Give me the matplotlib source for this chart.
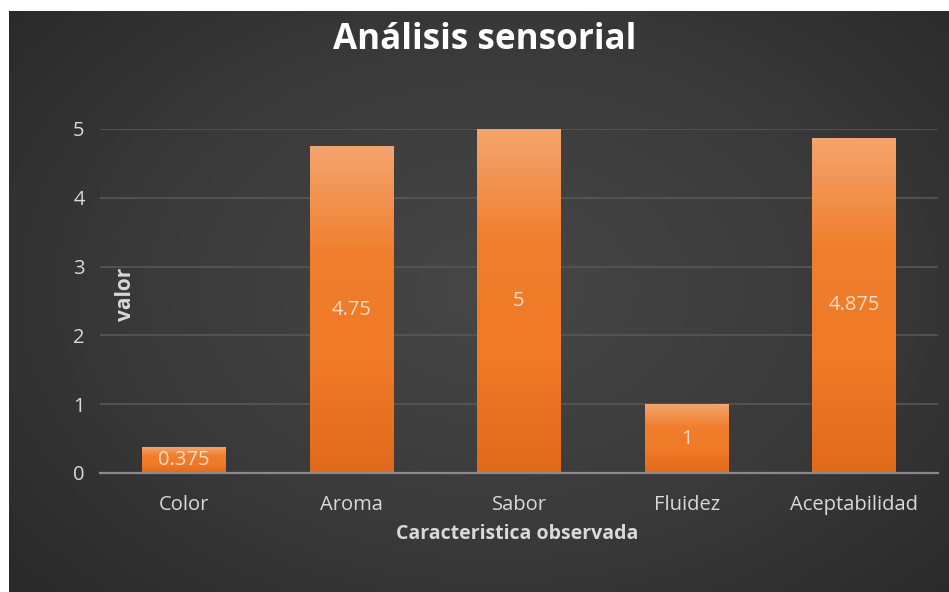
import numpy as np
import matplotlib.pyplot as plt
from matplotlib.colors import LinearSegmentedColormap

plt.rcParams["font.family"] = ["Open Sans", "DejaVu Sans"]

# ── Data ─────────────────────────────────────────────────────────────────────
categorias = ["Color", "Aroma", "Sabor", "Fluidez", "Aceptabilidad"]
valores = [0.375, 4.75, 5, 1, 4.875]
etiquetas = ["0.375", "4.75", "5", "1", "4.875"]
yticks = [0, 1, 2, 3, 4, 5]

W, H = 949, 592
fig = plt.figure(figsize=(W / 100, H / 100), dpi=100, facecolor="white")

# ── Dark radial background ───────────────────────────────────────────────────
bg = fig.add_axes([9 / W, 0, 1 - 9 / W, (H - 11) / H])
bg.set_axis_off()
yy, xx = np.mgrid[0:1:300j, 0:1:480j]
r = np.sqrt(((xx - 0.52) / 0.75) ** 2 + ((yy - 0.48) / 0.85) ** 2)
r = np.clip(r, 0, 1)
bg_cmap = LinearSegmentedColormap.from_list("bg", ["#474747", "#3a3a3a", "#262626"])
bg.imshow(r, cmap=bg_cmap, aspect="auto", extent=[0, 1, 0, 1], vmin=0, vmax=1)
bg.set_xlim(0, 1)
bg.set_ylim(0, 1)

# ── Plot area ────────────────────────────────────────────────────────────────
ax = fig.add_axes([100 / W, (H - 473) / H, (938 - 100) / W, (473 - 129) / H])
ax.patch.set_alpha(0)
x = np.arange(len(categorias))
bars = ax.bar(x, valores, width=0.5, color="none", zorder=2)

bar_cmap = LinearSegmentedColormap.from_list(
    "naranja", ["#E2691C", "#EF7A27", "#F07E2C", "#F4A56F"])
grad = np.linspace(0, 1, 256).reshape(-1, 1)
for b in bars:
    x0, y0 = b.get_x(), b.get_y()
    im = ax.imshow(grad, cmap=bar_cmap, aspect="auto", origin="lower",
                   extent=[x0, x0 + b.get_width(), y0, y0 + b.get_height()], zorder=2)
    im.set_clip_path(b)

ax.set_xlim(-0.5, len(categorias) - 0.5)
ax.set_ylim(0, 5)
ax.set_yticks(yticks)
ax.set_xticks(x)
ax.set_xticklabels(categorias)
ax.grid(axis="y", color="#575757", linewidth=1.2, zorder=0)
ax.set_axisbelow(True)
for s in ["top", "right", "left"]:
    ax.spines[s].set_visible(False)
ax.spines["bottom"].set_color("#8a8a8a")
ax.spines["bottom"].set_linewidth(1.6)
ax.spines["bottom"].set_zorder(3)
ax.tick_params(length=0, colors="#D9D9D9", labelsize=14.5)
ax.tick_params(axis="x", pad=16)
ax.tick_params(axis="y", pad=11)

for b, lab in zip(bars, etiquetas):
    ax.text(b.get_x() + b.get_width() / 2, b.get_height() / 2, lab,
            ha="center", va="center", color="#F6DCC8", fontsize=14.5, zorder=4)

ax.text(0.03, 0.52, "valor", transform=ax.transAxes, rotation=90,
        ha="center", va="center", color="#D9D9D9", fontsize=15, fontweight="bold")

fig.text(517 / W, 1 - 534 / H, "Caracteristica observada", ha="center", va="center",
         color="#D9D9D9", fontsize=14, fontweight="bold")
fig.text(485 / W, 1 - 40 / H, "Análisis sensorial", ha="center", va="center",
         color="white", fontsize=25.2, fontweight="bold")

fig.savefig("out.png", dpi=100, facecolor="white")
